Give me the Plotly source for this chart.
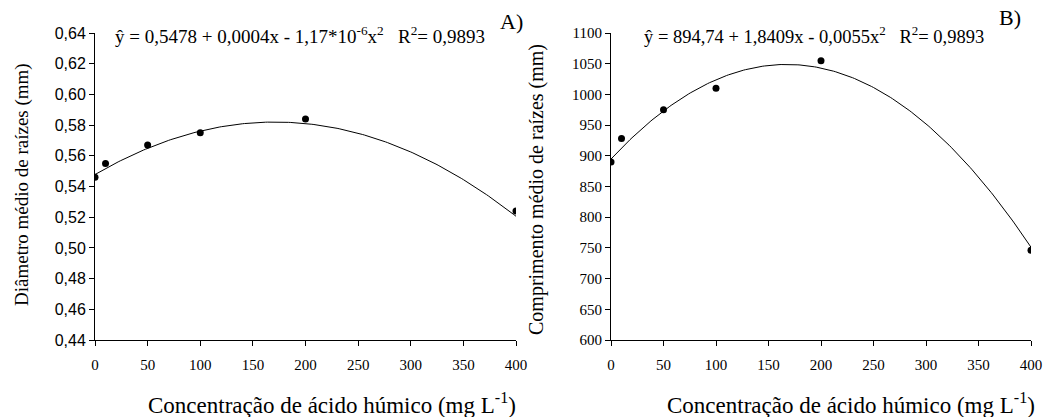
import numpy as np
import plotly.graph_objects as go

# Humic acid concentration (mg L-1)
doses = [0, 10, 50, 100, 200, 400]

# Mean root diameter (mm) and mean root length (mm)
diametro = [0.546, 0.555, 0.567, 0.575, 0.584, 0.524]
comprimento = [890, 928, 975, 1010, 1055, 746]

# Quadratic regression coefficients (b0, b1, b2)
coef_diam = [0.5478, 0.0004, -1.17e-6]
coef_comp = [894.74, 1.8409, -0.0055]

eq_diam = "ŷ = 0,5478 + 0,0004x - 1,17*10<sup>-6</sup>x<sup>2</sup>   R<sup>2</sup>= 0,9893"
eq_comp = "ŷ = 894,74 + 1,8409x - 0,0055x<sup>2</sup>   R<sup>2</sup>= 0,9893"
x_title = "Concentração de ácido húmico (mg L<sup>-1</sup>)"

x_ticks = [0, 50, 100, 150, 200, 250, 300, 350, 400]
y_ticks_diam = [0.44, 0.46, 0.48, 0.50, 0.52, 0.54, 0.56, 0.58, 0.60, 0.62, 0.64]
y_ticks_comp = [600, 650, 700, 750, 800, 850, 900, 950, 1000, 1050, 1100]

SERIF = "Liberation Serif"
SANS = "Liberation Sans"
W, H = 1048, 417

xs = np.linspace(0, 400, 201)


def quad(c, x):
    return c[0] + c[1] * x + c[2] * x ** 2


def font(family, size):
    return dict(family=family, size=size, color="black")


fig = go.Figure()

fig.add_trace(go.Scatter(x=xs, y=quad(coef_diam, xs), mode="lines",
                         line=dict(color="black", width=1), xaxis="x", yaxis="y",
                         hoverinfo="skip"))
fig.add_trace(go.Scatter(x=doses, y=diametro, mode="markers",
                         marker=dict(color="black", size=7), xaxis="x", yaxis="y"))
fig.add_trace(go.Scatter(x=xs, y=quad(coef_comp, xs), mode="lines",
                         line=dict(color="black", width=1), xaxis="x2", yaxis="y2",
                         hoverinfo="skip"))
fig.add_trace(go.Scatter(x=doses, y=comprimento, mode="markers",
                         marker=dict(color="black", size=7), xaxis="x2", yaxis="y2"))

ydom = [1 - 340 / H, 1 - 33 / H]

axis_common = dict(showgrid=False, zeroline=False, showline=True, linecolor="black",
                   linewidth=1, ticks="outside", ticklen=5, tickcolor="black",
                   tickwidth=1, automargin=False)

xaxis_common = dict(axis_common, range=[0, 400], tickvals=x_ticks,
                    ticklabelstandoff=6, tickfont=font(SERIF, 15))

fig.update_layout(
    width=W, height=H,
    margin=dict(l=0, r=0, t=0, b=0),
    paper_bgcolor="white", plot_bgcolor="white",
    showlegend=False,
    separators=",.",
    font=font(SERIF, 16),
    xaxis=dict(xaxis_common, domain=[95 / W, 516 / W], anchor="y"),
    xaxis2=dict(xaxis_common, domain=[611 / W, 1031 / W], anchor="y2"),
    yaxis=dict(axis_common, domain=ydom, anchor="x", range=[0.44, 0.64],
               tickvals=y_ticks_diam, tickformat=".2f", tickfont=font(SANS, 16)),
    yaxis2=dict(axis_common, domain=ydom, anchor="x2", range=[600, 1100],
                tickvals=y_ticks_comp, tickfont=font(SERIF, 15)),
)

# Regression equations and panel letters
fig.add_annotation(text=eq_diam, xref="paper", yref="paper", x=113 / W, y=1 - 35 / H,
                   xanchor="left", yanchor="middle", showarrow=False, font=font(SERIF, 19))
fig.add_annotation(text=eq_comp, xref="paper", yref="paper", x=642 / W, y=1 - 35 / H,
                   xanchor="left", yanchor="middle", showarrow=False, font=font(SERIF, 18.5))
fig.add_annotation(text="A)", xref="paper", yref="paper", x=498 / W, y=1 - 21 / H,
                   xanchor="left", yanchor="middle", showarrow=False, font=font(SERIF, 22))
fig.add_annotation(text="B)", xref="paper", yref="paper", x=997 / W, y=1 - 18 / H,
                   xanchor="left", yanchor="middle", showarrow=False, font=font(SERIF, 22))

# Axis titles
for xc in (332, 851):
    fig.add_annotation(text=x_title, xref="paper", yref="paper", x=xc / W, y=1 - 403 / H,
                       xanchor="center", yanchor="middle", showarrow=False,
                       font=font(SERIF, 23))
fig.add_annotation(text="Diâmetro médio de raízes (mm)", xref="paper", yref="paper",
                   x=22 / W, y=1 - 185 / H, textangle=-90, xanchor="center",
                   yanchor="middle", showarrow=False, font=font(SERIF, 19))
fig.add_annotation(text="Comprimento médio de raízes (mm)", xref="paper", yref="paper",
                   x=536 / W, y=1 - 190 / H, textangle=-90, xanchor="center",
                   yanchor="middle", showarrow=False, font=font(SERIF, 20))

fig.write_html("out.html")
